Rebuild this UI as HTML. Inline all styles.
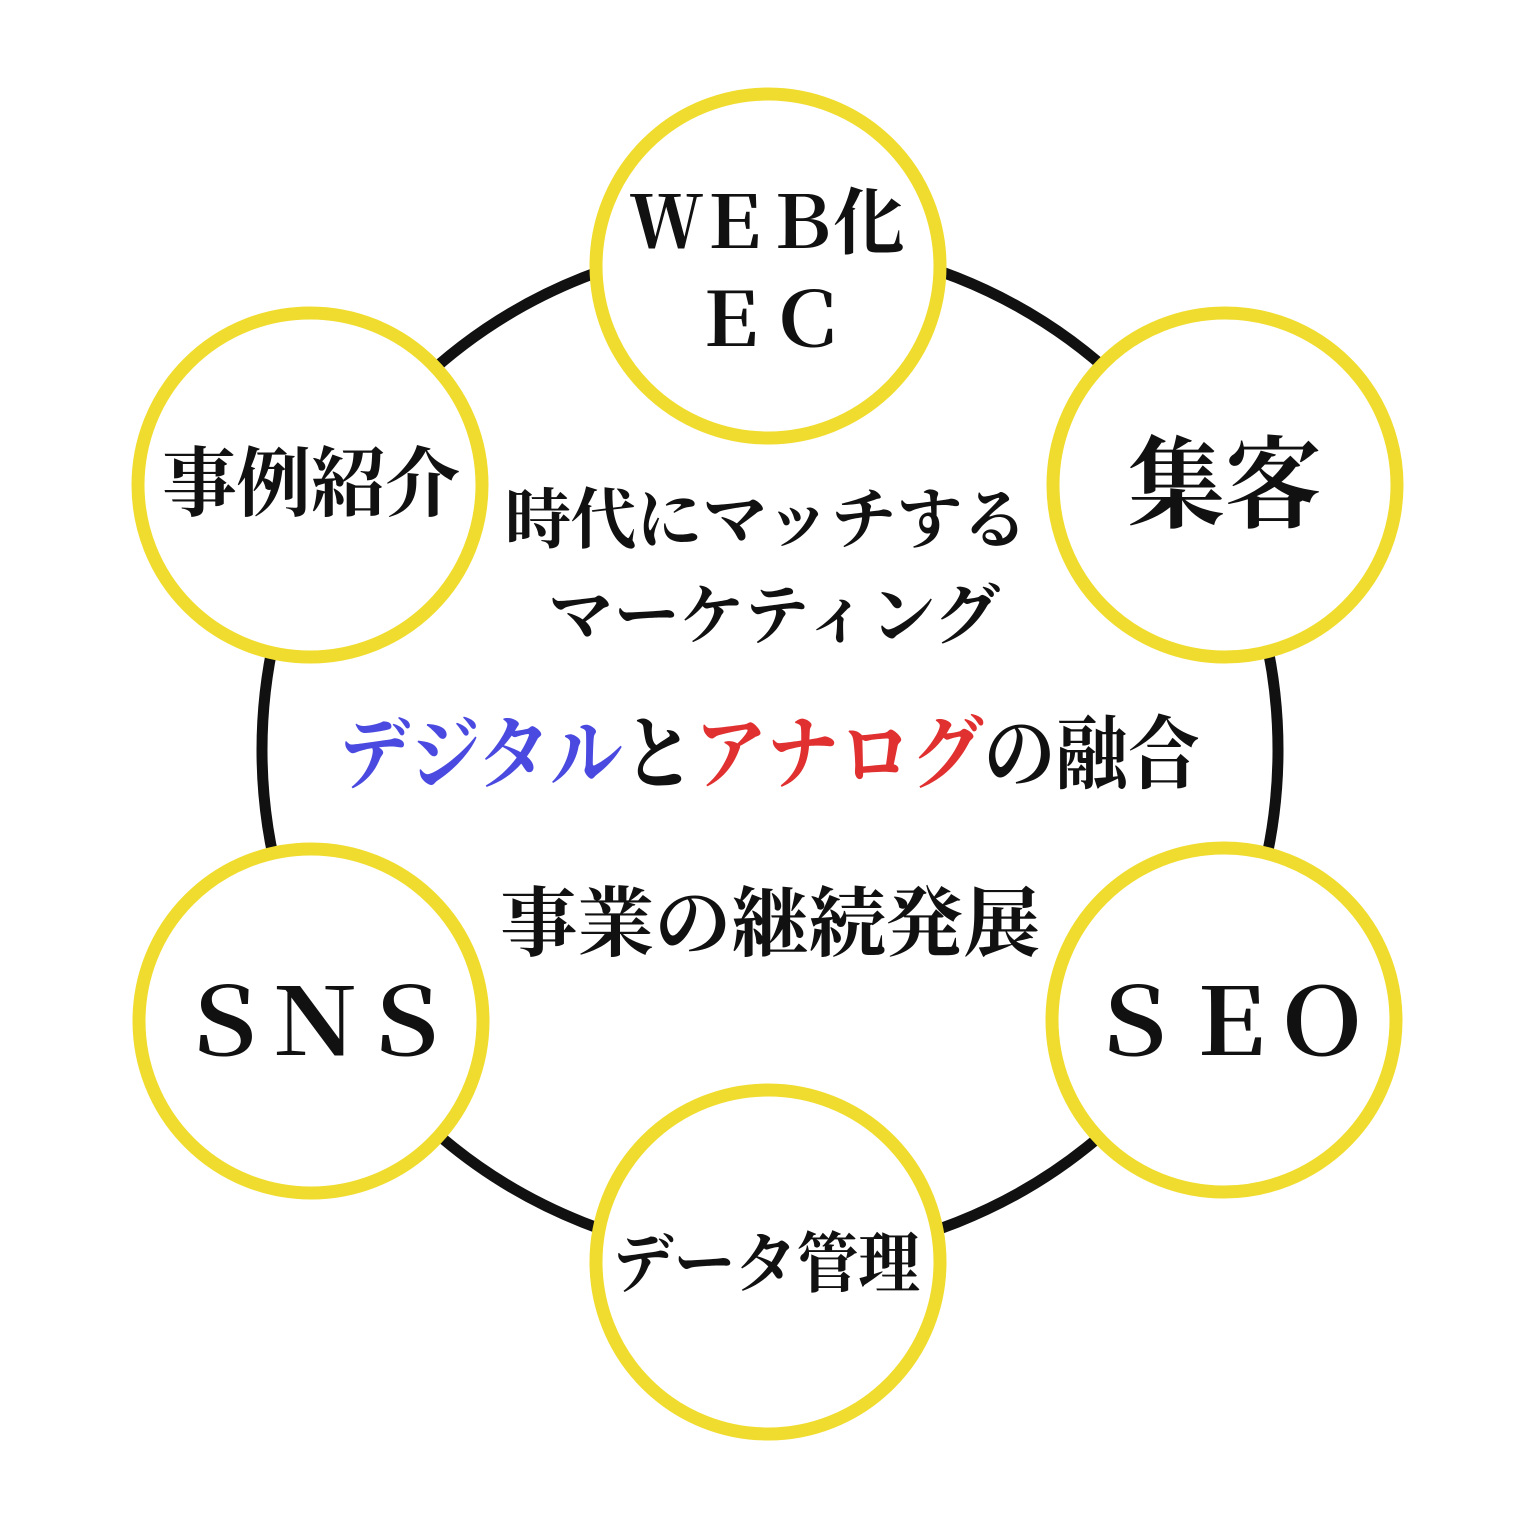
<!DOCTYPE html>
<html><head><meta charset="utf-8"><style>
html,body{margin:0;padding:0;background:#fff}
svg{display:block}
text{font-family:"Liberation Serif","Noto Serif CJK JP","Noto Serif CJK SC",serif;font-weight:bold;fill:#111;dominant-baseline:central}
</style></head><body>
<svg width="1536" height="1536" viewBox="0 0 1536 1536" xmlns="http://www.w3.org/2000/svg">
<rect width="1536" height="1536" fill="#fff"/>
<circle cx="770" cy="750" r="508" fill="none" stroke="#111" stroke-width="11"/>
<g fill="#fff" stroke="#f0dc2e" stroke-width="13">
<circle cx="768" cy="266" r="172"/>
<circle cx="1225" cy="485" r="172"/>
<circle cx="310" cy="485" r="172"/>
<circle cx="311" cy="1021" r="172"/>
<circle cx="1224" cy="1020" r="172"/>
<circle cx="768" cy="1262" r="172"/>
</g>
<text x="630" y="224" font-size="72" textLength="275" lengthAdjust="spacing">ＷＥＢ化</text>
<text x="730" y="322" font-size="74" text-anchor="middle">Ｅ</text>
<text x="808" y="322" font-size="74" text-anchor="middle">Ｃ</text>
<text x="1128" y="486" font-size="100" textLength="194" lengthAdjust="spacingAndGlyphs">集客</text>
<text x="162" y="485" font-size="76" textLength="298" lengthAdjust="spacingAndGlyphs">事例紹介</text>
<text x="224" y="1024" font-size="92" text-anchor="middle">Ｓ</text>
<text x="315" y="1024" font-size="92" text-anchor="middle">Ｎ</text>
<text x="406" y="1024" font-size="92" text-anchor="middle">Ｓ</text>
<text x="1134" y="1024" font-size="92" text-anchor="middle">Ｓ</text>
<text x="1230" y="1024" font-size="92" text-anchor="middle">Ｅ</text>
<text x="1322" y="1024" font-size="92" text-anchor="middle">Ｏ</text>
<text x="612" y="1265" font-size="66" textLength="308" lengthAdjust="spacingAndGlyphs">データ管理</text>
<text x="505" y="521" font-size="66" textLength="523" lengthAdjust="spacingAndGlyphs">時代にマッチする</text>
<text x="548" y="617" font-size="66" textLength="452" lengthAdjust="spacingAndGlyphs">マーケティング</text>
<text x="338" y="756" font-size="80" textLength="862" lengthAdjust="spacingAndGlyphs"><tspan fill="#4a4ae0">デジタル</tspan>と<tspan fill="#e03030">アナログ</tspan>の融合</text>
<text x="500" y="925" font-size="76" textLength="540" lengthAdjust="spacingAndGlyphs">事業の継続発展</text>
</svg>
</body></html>
